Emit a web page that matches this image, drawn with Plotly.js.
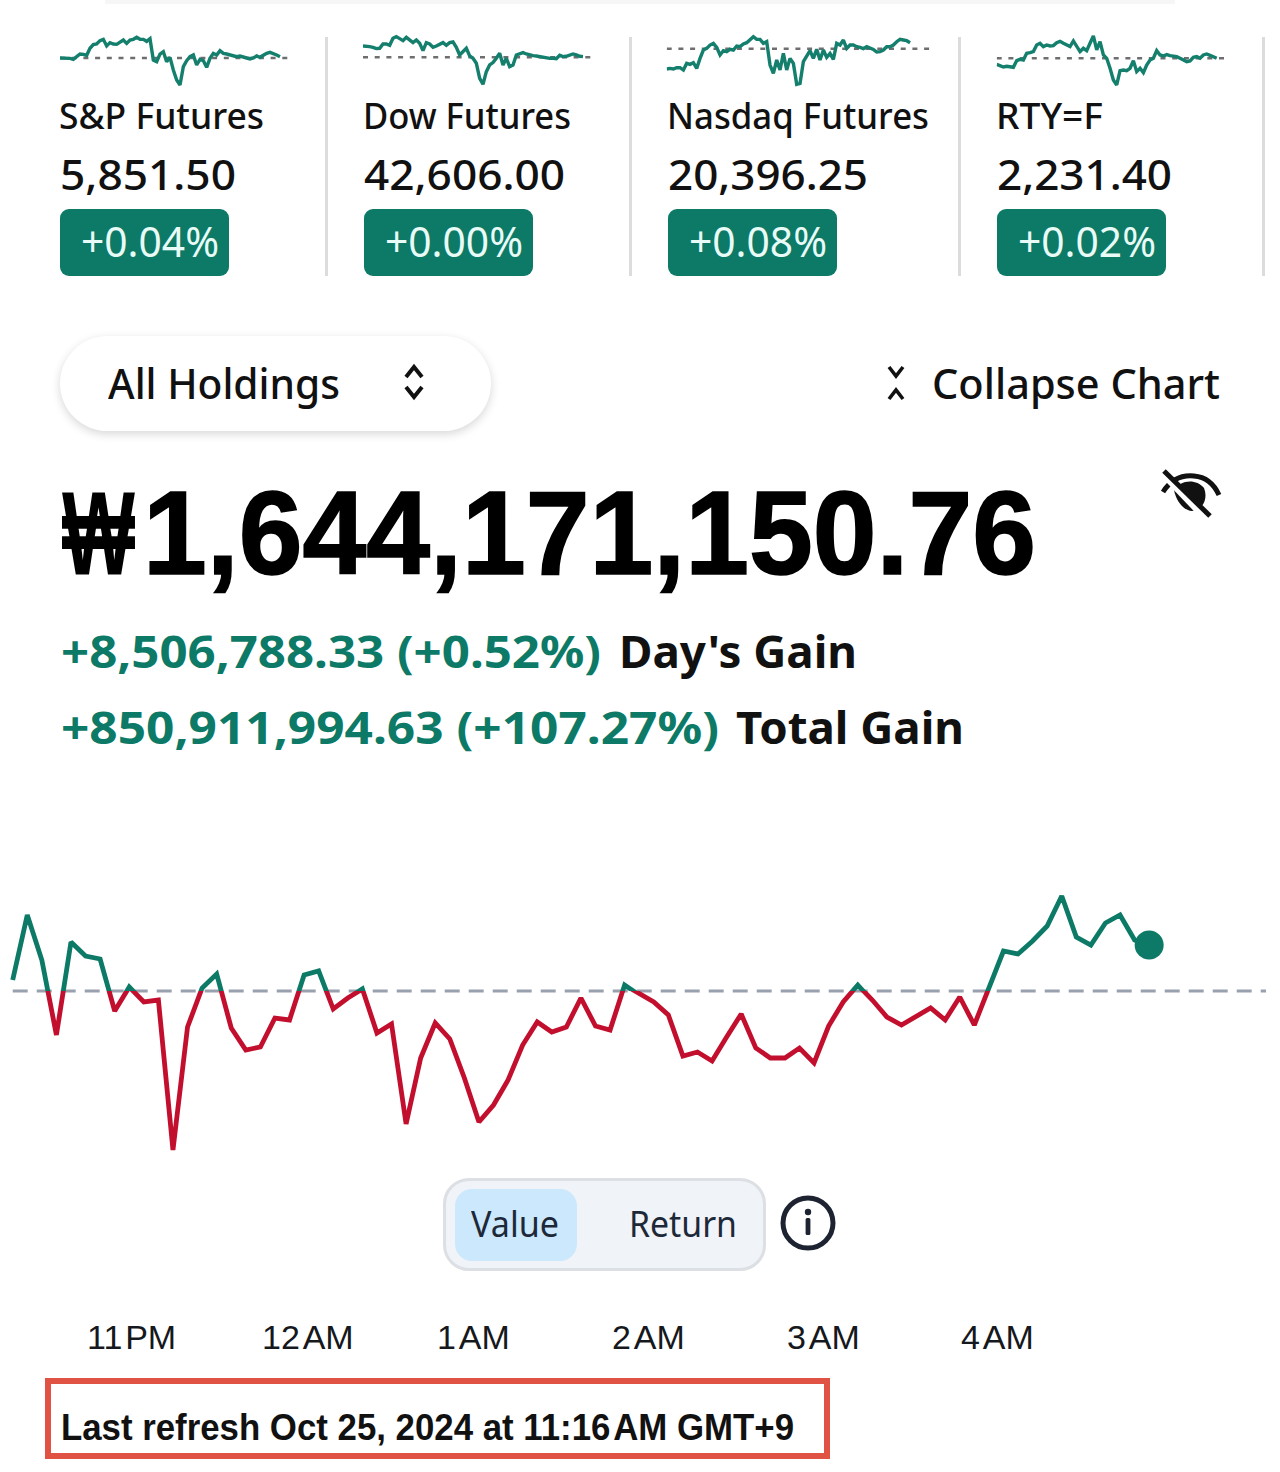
<!DOCTYPE html>
<html><head><meta charset="utf-8">
<script src="https://cdn.plot.ly/plotly-3.0.1.min.js"></script>
<style>
html,body{margin:0;padding:0;background:#fff;width:1280px;height:1472px;overflow:hidden}
#page{position:relative;width:1280px;height:1472px;overflow:hidden}
#plot{position:absolute;left:0;top:0;width:1280px;height:1472px;z-index:2}
.box{position:absolute;box-sizing:border-box}
.t{position:absolute;white-space:pre;transform-origin:0 50%;line-height:1;z-index:3}
svg.ic{position:absolute;z-index:3;overflow:visible}
</style></head><body><div id="page"><div id="plot"></div></div>
<script>
// ---------- data ----------
const tickMinutes = [40,100,160,220,280,340];
const tickLabels = ['11\u200APM','12\u200AAM','1\u200AAM','2\u200AAM','3\u200AAM','4\u200AAM'];
const minutesPerPoint = 5;
const portfolioChange = [11,76,31,-44,49,35,32,-20,4,-11,-9,-159,-36,3,17,-37,-59,-56,-27,-29,16,20,-18,-7,2,-42,-33,-133,-67,-32,-48,-87,-131,-114,-89,-54,-31,-41,-36,-7,-35,-39,6,-3,-11,-24,-65,-61,-70,-46,-23,-57,-67,-67,-57,-72,-35,-11,6,-9,-26,-34,-26,-17,-29,-6,-34,3,40,37,50,65,95,54,46,68,76,51,46];
const spSeries = [0,0,-2,-1,-4,4,12,11,8,29,40,42,52,56,36,46,42,41,48,54,44,54,56,62,56,56,50,58,-6,-11,12,19,-11,2,-36,-66,-81,-26,-8,4,9,-21,-4,-8,-28,-1,14,9,22,14,12,10,8,4,6,2,0,-3,0,6,2,8,14,17,14,9,4];
const dowSeries = [34,34,32,30,26,27,40,40,36,57,62,56,50,60,52,44,52,42,20,44,40,30,34,40,44,36,44,46,30,7,17,27,4,-3,-18,-63,-81,-43,-23,-16,-3,12,-23,-3,-28,-23,7,10,14,10,7,5,4,2,-1,-2,-3,-3,-4,6,2,3,6,10,7,3,2];
const nasdaqSeries = [-61,-59,-61,-57,-57,-64,-44,-47,-42,-59,-29,-4,1,11,16,4,-19,-6,-9,-2,-4,8,6,14,18,26,36,28,28,16,21,-49,-74,-34,-64,-14,-64,-29,-44,-107,-104,-39,-22,-6,-29,-2,-34,-4,-26,-14,-32,16,11,26,1,11,11,6,4,0,6,1,-2,-10,-9,-4,6,6,11,21,28,26,24,18];
const rtySeries = [-18,-22,-26,-24,-26,-27,-7,-3,-5,15,17,20,40,45,35,40,37,38,47,51,45,40,35,52,35,20,30,23,45,67,25,50,10,0,-30,-65,-80,-37,-35,-37,-30,-7,-40,-30,-43,-20,-5,0,23,10,7,11,8,7,5,0,-5,-10,-8,3,5,0,10,13,9,5,0];
const tickerNames = ['S&P Futures','Dow Futures','Nasdaq Futures','RTY=F'];
const tickerPrices = ['5,851.50','42,606.00','20,396.25','2,231.40'];
const tickerChanges = ['+0.04%','+0.00%','+0.08%','+0.02%'];

// ---------- colours ----------
const GREEN='#0c7a66', RED='#c30f2e', SPARK='#147f6c';
const W=1280,H=1472;
const xd=(a,b)=>[a/W,b/W];
const yd=(t,b)=>[1-b/H,1-t/H];

// ---------- main chart: same series on two stacked axes, split at the zero line ----------
const mins=portfolioChange.map((_,i)=>i*minutesPerPoint);
const pxPerMin=14.57/minutesPerPoint, x0px=12.7;
const hiddenAxis={visible:false,fixedrange:true};
const layout={
  width:W,height:H,margin:{l:0,r:0,t:0,b:0},paper_bgcolor:'rgba(0,0,0,0)',plot_bgcolor:'rgba(0,0,0,0)',
  showlegend:false,hovermode:false,
  font:{family:'"Liberation Sans",sans-serif',color:'#15181c'},
  xaxis:{...hiddenAxis,domain:[0,1],range:[(0-x0px)/pxPerMin,(W-x0px)/pxPerMin],anchor:'y2'},
  yaxis:{...hiddenAxis,domain:yd(880,991),range:[0,111],anchor:'x'},
  yaxis2:{...hiddenAxis,domain:yd(991,1170),range:[-179,0],anchor:'x'},
  shapes:[{type:'line',xref:'x',yref:'paper',x0:0,x1:(1266-x0px)/pxPerMin,y0:(H-991)/H,y1:(H-991)/H,layer:'below',
    line:{color:'#9aa1ae',width:3.2,dash:'15px,9px'}}],
  // hour labels start a fixed distance left of their hour, as in the reference
  annotations:tickMinutes.map((m,i)=>({xref:'x',yref:'paper',x:m,y:(H-1337)/H,xanchor:'left',yanchor:'middle',xshift:-44,
    text:tickLabels[i],showarrow:false,font:{size:34,color:'#15181c',family:'"Liberation Sans",sans-serif'}}))
};
const traces=[
  {type:'scatter',mode:'lines',x:mins,y:portfolioChange,xaxis:'x',yaxis:'y2',line:{color:RED,width:4.8}},
  {type:'scatter',mode:'lines',x:mins,y:portfolioChange,xaxis:'x',yaxis:'y',line:{color:GREEN,width:4.8}},
  {type:'scatter',mode:'markers',x:mins.slice(-1),y:portfolioChange.slice(-1),xaxis:'x',yaxis:'y',
    marker:{size:29,color:GREEN},cliponaxis:false}
];
// sparklines: 1 unit = 1/3 px; one sample every 10 units
const sparks=[
 {s:spSeries,start:60,end:292,base:58},
 {s:dowSeries,start:363,end:596,base:57.3},
 {s:nasdaqSeries,start:666.7,end:933,base:48.7},
 {s:rtySeries,start:996.7,end:1229,base:58.3}];
sparks.forEach((k,i)=>{
  const n=i+2, yn=i+3, step=10/3;
  layout['xaxis'+n]={...hiddenAxis,domain:xd(k.start,k.end),range:[0,(k.end-k.start)/step],anchor:'y'+yn};
  layout['yaxis'+yn]={...hiddenAxis,domain:yd(k.base-30,k.base+39),range:[-117,90],anchor:'x'+n};
  layout.shapes.push({type:'line',xref:'x'+n,yref:'y'+yn,x0:0,x1:(k.end-k.start)/step,y0:0,y1:0,layer:'below',
    line:{color:'#6e6e70',width:2.4,dash:'5px,6.7px'}});
  traces.push({type:'scatter',mode:'lines',x:k.s.map((_,j)=>j),y:k.s,xaxis:'x'+n,yaxis:'y'+yn,line:{color:SPARK,width:3.4}});
});
Plotly.newPlot('plot',traces,layout,{staticPlot:true,displayModeBar:false});

// ---------- surrounding page furniture ----------
const page=document.getElementById('page');
function box(l,t,w,h,css){const d=document.createElement('div');d.className='box';
  d.style.cssText=`left:${l}px;top:${t}px;width:${w}px;height:${h}px;${css}`;page.appendChild(d);return d;}
const SANS='"Noto Sans",sans-serif', HEL='"Liberation Sans",sans-serif';
function text(s,left,width,cy,size,weight,color,fam){const e=document.createElement('span');e.className='t';e.textContent=s;
  e.style.cssText=`left:${left}px;top:${cy-size/2}px;font-size:${size}px;font-weight:${weight};color:${color};font-family:${fam||SANS};`;
  page.appendChild(e);const w=e.getBoundingClientRect().width;e.style.transform=`scaleX(${width/w})`;return e;}
function svg(l,t,w,h,inner){const d=document.createElementNS('http://www.w3.org/2000/svg','svg');d.setAttribute('class','ic');
  d.setAttribute('width',w);d.setAttribute('height',h);d.setAttribute('viewBox',`0 0 ${w} ${h}`);d.style.left=l+'px';d.style.top=t+'px';d.innerHTML=inner;page.appendChild(d);}

box(105,0,1070,4,'background:#f6f6f6;');
[326,630,959,1263].forEach(x=>box(x-1.5,37,3,239,'background:#dcdcdc;'));
const colL=[60,364,668,997], nameW=[205,208,262,107], priceW=[176,201,200,175];
tickerNames.forEach((n,i)=>{
  text(n,colL[i]-1,nameW[i],116,36,500,'#111');
  text(tickerPrices[i],colL[i],priceW[i],174,42,500,'#111');
  box(colL[i]-0.5,209,169,67,`background:${GREEN};border-radius:9px;`);
  text(tickerChanges[i],colL[i]+21,138,241,41,400,'#e9fbf7').style.zIndex=4;
});
box(60,336,431,95,'background:#fff;border-radius:48px;box-shadow:0 3px 10px rgba(0,0,0,.16);');
text('All Holdings',108,232,383,42,500,'#111');
svg(400,362,28,40,'<path d="M6 15 L14 5 L22 15 M6 25 L14 35 L22 25" fill="none" stroke="#111" stroke-width="4"/>');
svg(884,364,24,38,'<path d="M5 3 L12 12 L19 3 M5 35 L12 26 L19 35" fill="none" stroke="#111" stroke-width="3.6"/>');
text('Collapse Chart',932,288,383,42,500,'#111');
svg(1160,468,62,52,'<path d="M3 24 C12 10 24 7 34 8 C46 9 54 16 59 27" fill="none" stroke="#111" stroke-width="5"/><path d="M14 22 C20 12 36 10 44 20 C48 30 44 41 32 43 C22 42 16 32 14 22 Z" fill="#111"/><path d="M4 6 L46 50" stroke="#fff" stroke-width="8"/><path d="M4 3 L50 48" stroke="#111" stroke-width="5"/>');
text('\u20A9',62,73,533,118,700,'#000',HEL);
text('1,644,171,150.76',143,893,533,118,700,'#000',HEL).style.webkitTextStroke='1.6px #000';
text('+8,506,788.33 (+0.52%)',61,540,651,44,700,GREEN);
text("Day's Gain",619,238,651,44,700,'#111');
text('+850,911,994.63 (+107.27%)',61,658,727,44,700,GREEN);
text('Total Gain',736,228,727,44,700,'#111');
box(443,1178,323,93,'background:#f0f3f7;border:3px solid #dcdfe4;border-radius:26px;');
box(455,1189,122,72,'background:#cce8fd;border-radius:17px;');
text('Value',471,88,1224,36,400,'#1d2838');
text('Return',629,108,1224,36,400,'#1d2838');
svg(780,1195,56,56,'<circle cx="28" cy="28" r="25" fill="none" stroke="#1d2330" stroke-width="5"/><circle cx="28" cy="17" r="3.2" fill="#1d2330"/><rect x="25.6" y="23" width="4.8" height="17" rx="1.5" fill="#1d2330"/>');
box(45,1378,785,81,'border:6px solid #e05243;');
text('Last refresh Oct 25, 2024 at 11:16\u200AAM GMT+9',61,733,1428,36,700,'#111',HEL);
</script></body></html>
